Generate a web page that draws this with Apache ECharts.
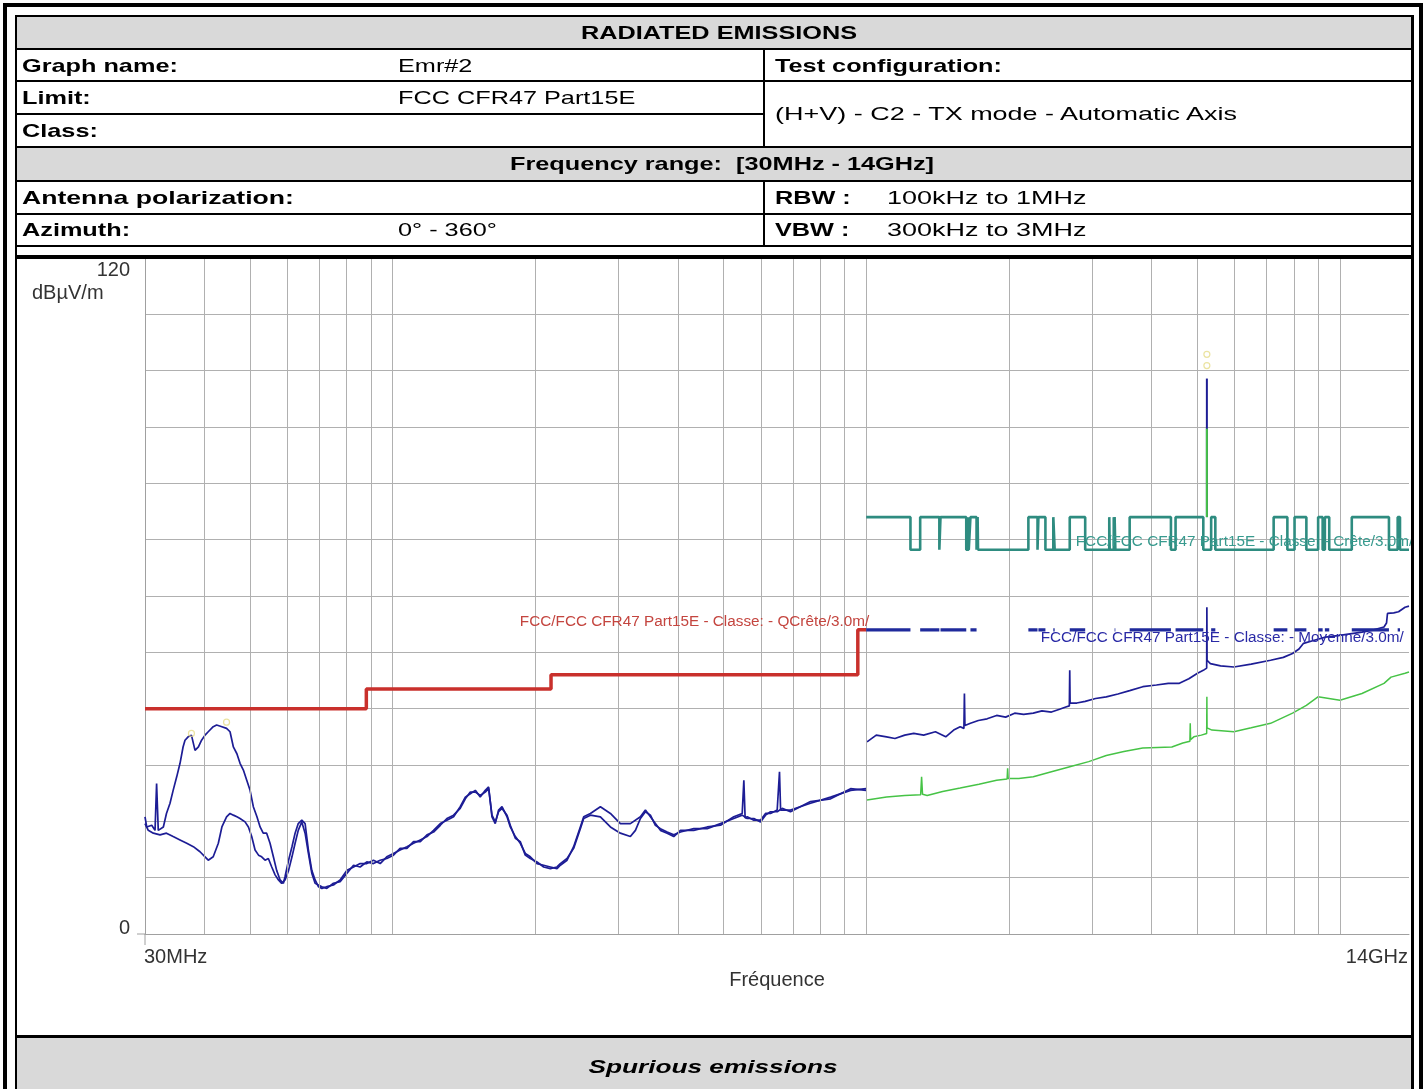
<!DOCTYPE html>
<html>
<head>
<meta charset="utf-8">
<title>Radiated emissions</title>
<script src="https://cdn.jsdelivr.net/npm/echarts@6/dist/echarts.min.js"></script>
<style>
html,body{margin:0;padding:0;background:#fff;}
body{width:1426px;height:1089px;position:relative;overflow:hidden;font-family:"Liberation Sans",Arial,sans-serif;}
#chart{position:absolute;left:0;top:0;width:1411px;height:1089px;z-index:1;}
.blk{position:absolute;background:#000;z-index:5;}
.gry{position:absolute;background:#d9d9d9;z-index:0;}
.t{position:absolute;white-space:nowrap;font-size:19px;line-height:19px;height:19px;color:#000;z-index:6;}
.t span{display:inline-block;transform-origin:0 50%;}
#frame{position:absolute;left:3px;top:3px;width:1420px;height:1110px;border:4px solid #000;box-sizing:border-box;z-index:5;}
</style>
</head>
<body>
<div id="frame"></div>
<div id="chart"></div>
<div id="deco"></div>
<script>
// ---------------- chart data ----------------
const xMinMHz = 30, xMaxMHz = 14000;
const yMinDb = 0, yMaxDb = 120, yStepDb = 10;
const yTickLabels = ['0', '120'];
const xTickLabels = ['30MHz', '14GHz'];
const gridFreqsMHz = [40, 50, 60, 70, 80, 90, 100, 200, 300, 400, 500, 600, 700, 800, 900,
  1000, 2000, 3000, 4000, 5000, 6000, 7000, 8000, 9000, 10000];

// FCC quasi-peak limit below 1 GHz (band edges / level)
const qpEdgesMHz = [30, 88, 216, 960, 1000];
const qpLevelsDb = [40, 43.5, 46, 54];

// restricted bands above 1 GHz (peak 74 / average 54 inside, 68.2 outside)
const restrictedBandsMHz = [[1000,1240],[1300,1427],[1435,1626.5],[1645.5,1646.5],[1660,1710],
  [1718.8,1722.2],[2200,2300],[2310,2390],[2483.5,2500],[2690,2900],[3260,3267],[3332,3339],
  [3345.8,3358],[3600,4400],[4500,5150],[5350,5460],[7250,7750],[8025,8500],[9000,9200],
  [9300,9500],[10600,12700],[13250,13400]];
const peakLimitInDb = 74, peakLimitOutDb = 68.2, avgLimitDb = 54;

const limitLabels = [
  'FCC/FCC CFR47 Part15E - Classe: - QCrête/3.0m/',
  'FCC/FCC CFR47 Part15E - Classe: - Crête/3.0m/',
  'FCC/FCC CFR47 Part15E - Classe: - Moyenne/3.0m/'
];
const limitLabelAnchorsMHz = [1000, 2770, 2336];

// measured traces 30 MHz - 1 GHz (two polarisations)
const traceLowA = [[30,20.8],[30.25,19.0],[31.0,19.3],[31.5,18.4],[31.74,26.7],[32.0,18.4],[32.27,18.1],[32.8,19.0],[33.3,21.4],[33.88,23.2],[34.4,25.5],[35.0,27.9],[35.57,30.3],[36.1,33.2],[36.44,34.4],[37.0,35.0],[37.6,35.3],[38.26,32.6],[38.9,33.2],[39.5,34.4],[40.17,35.3],[40.8,35.9],[41.8,36.8],[42.5,37.1],[43.6,36.8],[44.6,36.5],[45.36,35.9],[46.1,33.2],[46.9,32.0],[47.62,30.3],[48.4,29.1],[49.2,27.3],[50.0,25.5],[50.8,22.6],[51.7,20.8],[52.5,19.0],[53.3,17.9],[54.2,17.9],[55.1,16.1],[56.0,13.7],[56.9,11.3],[57.86,9.6],[58.8,9.0],[59.28,10.2],[60.3,13.1],[61.3,15.5],[62.24,17.9],[63.2,19.6],[64.3,20.2],[65.34,19.6],[66.4,14.9],[67.5,11.3],[68.6,9.6],[69.7,8.4],[70.9,8.1],[72.6,8.4],[75.0,8.7],[77.47,9.6],[80.1,11.3],[82.7,11.9],[85.39,12.5],[88.2,12.5],[91.1,13.1],[94.12,12.5],[97.2,13.7],[100.4,14.3],[103.7,14.9],[107.2,15.5],[110.7,16.1],[114.4,16.7],[118.2,17.3],[122.0,18.4],[126.1,19.6],[130.2,20.2],[134.5,20.8],[138.9,22.6],[142.4,24.3],[145.9,24.9],[149.5,25.5],[153.1,24.3],[156.9,25.5],[159.5,26.1],[162.1,20.8],[164.7,19.6],[167.4,22.0],[170.2,22.6],[174.4,20.8],[177.2,19.0],[181.6,17.3],[186.0,16.1],[190.6,14.3],[195.3,13.7],[201.8,12.5],[208.4,12.2],[215.3,11.9],[222.4,11.6],[226.0,12.2],[233.5,13.1],[241.1,15.5],[249.1,19.0],[253.2,20.8],[261.6,21.4],[274.6,22.6],[288.3,21.4],[302.6,19.6],[317.7,19.6],[333.6,20.8],[341.8,22.0],[350.2,20.8],[358.8,19.6],[367.7,18.4],[379.9,17.9],[392.3,17.3],[405.3,18.4],[432.4,18.4],[461.5,19.0],[492.4,19.3],[525.3,20.8],[547.2,21.4],[551.6,27.3],[555.0,20.6],[560.7,20.8],[579.0,20.2],[598.1,20.2],[612.9,21.4],[627.9,21.4],[648.7,22.0],[656.0,28.8],[659.5,22.0],[664.7,22.0],[692.1,22.0],[762.8,23.2],[841.0,24.3],[926.9,25.5],[1000,25.8]];
const traceLowB = [[30,19.6],[30.48,18.4],[31.24,17.9],[32.27,17.6],[33.3,17.9],[34.4,17.3],[35.57,16.7],[36.75,16.1],[37.95,15.5],[39.2,14.6],[40.17,13.7],[40.8,13.1],[41.8,13.7],[42.85,16.1],[43.6,19.0],[44.6,20.8],[45.36,21.4],[46.1,21.1],[46.9,20.8],[47.62,20.5],[48.8,19.9],[49.6,19.0],[50.4,17.3],[51.23,14.9],[52.1,14.0],[52.9,13.7],[53.78,13.1],[54.65,13.4],[55.56,11.9],[56.47,10.5],[57.4,9.6],[58.3,9.0],[59.28,9.6],[60.3,11.3],[61.3,13.7],[62.24,16.1],[63.2,18.4],[64.3,19.9],[65.34,17.9],[66.4,14.3],[67.5,10.8],[68.6,9.0],[69.7,8.7],[70.9,8.4],[72.6,8.1],[75.0,9.0],[77.47,9.3],[80.1,10.8],[82.7,12.2],[85.39,11.9],[88.2,12.8],[91.1,12.5],[94.12,13.1],[97.2,13.4],[100.4,14.0],[103.7,15.2],[107.2,15.2],[110.7,16.4],[114.4,16.4],[118.2,17.6],[122.0,18.1],[126.1,19.3],[130.2,20.5],[134.5,21.1],[138.9,22.3],[142.4,24.0],[145.9,25.2],[149.5,25.2],[153.1,24.6],[156.9,25.2],[159.5,25.8],[162.1,21.1],[164.7,19.9],[167.4,21.7],[170.2,22.3],[174.4,21.1],[177.2,19.3],[181.6,17.0],[186.0,16.4],[190.6,14.0],[195.3,13.4],[201.8,12.8],[208.4,11.9],[215.3,11.6],[222.4,11.9],[226.0,12.5],[233.5,13.4],[241.1,15.2],[249.1,18.7],[253.2,20.5],[261.6,21.1],[274.6,20.8],[288.3,19.0],[302.6,17.9],[317.7,17.3],[325.6,18.4],[333.6,20.5],[341.8,21.7],[350.2,21.1],[358.8,19.3],[367.7,18.7],[379.9,18.1],[392.3,17.6],[405.3,18.1],[432.4,18.7],[461.5,18.7],[492.4,19.6],[525.3,20.5],[547.2,21.1],[560.7,20.5],[579.0,20.5],[598.1,19.9],[612.9,21.1],[627.9,21.7],[648.7,21.7],[664.7,22.3],[692.1,21.7],[762.8,23.5],[841.0,24.0],[926.9,25.8],[1000,25.5]];

// measured traces 1 GHz - 14 GHz (peak / average)
const traceHighPeak = [[1004,34.1],[1050,35.3],[1104,35.0],[1150,34.7],[1206,35.3],[1260,35.6],[1322,35.3],[1400,35.9],[1472,35.0],[1530,36.2],[1579,36.8],[1608,36.5],[1612,42.7],[1616,37.0],[1660,37.4],[1725,37.9],[1800,38.2],[1885,38.8],[1970,38.5],[2058,39.2],[2150,39.0],[2253,39.2],[2350,39.6],[2461,39.4],[2560,39.9],[2639,40.3],[2685,40.5],[2690,46.8],[2695,41.0],[2784,41.0],[2900,41.3],[3050,41.8],[3213,42.1],[3400,42.6],[3600,43.2],[3837,43.9],[4100,44.2],[4344,44.5],[4584,44.5],[4800,45.3],[5007,46.3],[5150,46.8],[5235,47.2],[5240,58.0],[5245,48.6],[5330,48.0],[5600,47.6],[5975,47.4],[6500,47.9],[7143,48.6],[7600,49.1],[7947,49.8],[8200,50.6],[8384,51.6],[8800,52.1],[9327,52.7],[10000,53.0],[11139,53.6],[11800,54.0],[12397,54.5],[12550,55.2],[12609,56.9],[13000,57.0],[13306,57.2],[13733,58.0],[14000,58.2]];
const traceHighAvg = [[1004,23.8],[1104,24.3],[1206,24.6],[1303,24.7],[1309,27.9],[1315,24.8],[1345,24.6],[1450,25.3],[1579,25.9],[1730,26.6],[1885,27.3],[1984,27.5],[1989,29.4],[1994,27.6],[2100,27.6],[2253,27.9],[2461,28.8],[2691,29.7],[2950,30.6],[3213,31.7],[3500,32.4],[3837,33.0],[4419,33.2],[4662,33.9],[4825,34.2],[4833,37.4],[4841,34.5],[4918,35.0],[5100,35.3],[5235,35.6],[5240,42.1],[5245,36.6],[5370,36.2],[5975,35.9],[6500,36.6],[7143,37.4],[7947,39.2],[8500,40.6],[8993,42.1],[10008,41.5],[11139,42.7],[12397,44.5],[12828,45.6],[13733,46.3],[14000,46.5]];
// carrier (TX) line and marker points
const carrierPeak = [[5240,74],[5240,98.6]];
const carrierAvg = [[5240,74],[5240,89.7]];
const peakMarkers = [[37.6,35.6],[44.6,37.6],[5240,100.9],[5240,102.9]];

// ---------------- limit step lines built from the tables ----------------
const qpData = [];
qpLevelsDb.forEach((lv, i) => { qpData.push([qpEdgesMHz[i], lv], [qpEdgesMHz[i + 1], lv]); });
const pkData = [];
let cur = restrictedBandsMHz[0][0];
restrictedBandsMHz.forEach(([lo, hi]) => {
  if (lo > cur) pkData.push([cur, peakLimitOutDb], [lo, peakLimitOutDb]);
  pkData.push([lo, peakLimitInDb], [hi, peakLimitInDb]);
  cur = hi;
});
pkData.push([cur, peakLimitOutDb], [xMaxMHz, peakLimitOutDb]);
const avgData = [];
restrictedBandsMHz.forEach(([lo, hi]) => { avgData.push([lo, avgLimitDb], [hi, avgLimitDb], [hi, '-']); });

// ---------------- table / frame (HTML) ----------------
const deco = document.getElementById('deco');
function box(cls, x, y, w, h) {
  const d = document.createElement('div'); d.className = cls;
  d.style.left = x + 'px'; d.style.top = y + 'px'; d.style.width = w + 'px'; d.style.height = h + 'px';
  deco.appendChild(d);
}
function txt(s, x, cy, o) {
  o = o || {};
  const d = document.createElement('div'); d.className = 't';
  d.style.left = x + 'px'; d.style.top = (cy - 9.5) + 'px';
  const sp = document.createElement('span'); sp.textContent = s;
  if (o.b) sp.style.fontWeight = 'bold';
  if (o.i) sp.style.fontStyle = 'italic';
  const sx = o.sx || 1.33;
  sp.style.transform = (o.c ? 'scaleX(' + sx + ') translateX(-50%)' : 'scaleX(' + sx + ')');
  d.appendChild(sp); deco.appendChild(d);
}
// gray rows
box('gry', 17, 17, 1394, 31);
box('gry', 17, 148, 1394, 32);
box('gry', 17, 1038, 1394, 60);
// lines
box('blk', 15, 15, 1399, 2);
box('blk', 15, 15, 2, 1090);
box('blk', 1411, 15, 3, 1090);
box('blk', 15, 48, 1399, 2);
box('blk', 15, 80, 1399, 2);
box('blk', 15, 113, 749, 2);
box('blk', 15, 146, 1399, 2);
box('blk', 15, 180, 1399, 2);
box('blk', 15, 213, 1399, 2);
box('blk', 15, 245, 1399, 2);
box('blk', 763, 48, 2, 98);
box('blk', 763, 180, 2, 65);
box('blk', 15, 255, 1399, 4);
box('blk', 15, 1035, 1399, 3);
// texts
txt('RADIATED EMISSIONS', 719, 32, {b: 1, c: 1});
txt('Graph name:', 22, 65, {b: 1});
txt('Emr#2', 398, 65);
txt('Test configuration:', 775, 65, {b: 1});
txt('Limit:', 22, 97.5, {b: 1});
txt('FCC CFR47 Part15E', 398, 97.5);
txt('Class:', 22, 130, {b: 1});
txt('(H+V) - C2 - TX mode - Automatic Axis', 775, 113.5, {sx: 1.42});
txt('Frequency range:\u00a0 [30MHz - 14GHz]', 722, 163.5, {b: 1, c: 1});
txt('Antenna polarization:', 22, 197, {b: 1, sx: 1.4});
txt('RBW :', 775, 197, {b: 1});
txt('100kHz to 1MHz', 887, 197, {sx: 1.42});
txt('Azimuth:', 22, 229, {b: 1});
txt('0° - 360°', 398, 229);
txt('VBW :', 775, 229, {b: 1});
txt('300kHz to 3MHz', 887, 229, {sx: 1.42});
txt('Spurious emissions', 713, 1066, {b: 1, i: 1, c: 1, sx: 1.38});

// ---------------- chart ----------------
const chart = echarts.init(document.getElementById('chart'), null, {renderer: 'canvas'});
const NAVY = '#1d1d95', GREEN = '#46c346', TEAL = '#2e8c80', RED = '#c9302c', AVG = '#1f2a9c';
const lineBase = {type: 'line', showSymbol: false, symbol: 'none', silent: true, animation: false};
chart.setOption({
  animation: false,
  backgroundColor: 'transparent',
  grid: {left: 145, top: 258, width: 1264, height: 676, containLabel: false},
  xAxis: {type: 'log', logBase: 10, min: xMinMHz, max: xMaxMHz,
    axisLine: {show: true, onZero: false, lineStyle: {color: '#a0a0a0', width: 1}},
    axisTick: {show: false}, axisLabel: {show: false}, splitLine: {show: false}},
  yAxis: {type: 'value', min: yMinDb, max: yMaxDb, interval: yStepDb,
    axisLine: {show: true, lineStyle: {color: '#a0a0a0', width: 1}},
    axisTick: {show: false}, axisLabel: {show: false},
    splitLine: {show: true, lineStyle: {color: '#b0b0b0', width: 1}}},
  series: [
    Object.assign({}, lineBase, {name: 'grid', data: [[xMinMHz, '-']], z: 1,
      markLine: {silent: true, symbol: ['none', 'none'], animation: false, label: {show: false},
        lineStyle: {color: '#b0b0b0', width: 1, type: 'solid'},
        data: gridFreqsMHz.map(f => ({xAxis: f}))}}),
    Object.assign({}, lineBase, {name: 'Low A', data: traceLowA, z: 3, lineStyle: {color: NAVY, width: 1.7}}),
    Object.assign({}, lineBase, {name: 'Low B', data: traceLowB, z: 3, lineStyle: {color: NAVY, width: 1.7}}),
    Object.assign({}, lineBase, {name: 'High peak', data: traceHighPeak, z: 3, lineStyle: {color: NAVY, width: 1.7}}),
    Object.assign({}, lineBase, {name: 'High avg', data: traceHighAvg, z: 4, lineStyle: {color: GREEN, width: 1.5}}),
    Object.assign({}, lineBase, {name: 'Carrier peak', data: carrierPeak, z: 4, lineStyle: {color: NAVY, width: 2}}),
    Object.assign({}, lineBase, {name: 'Carrier avg', data: carrierAvg, z: 5, lineStyle: {color: GREEN, width: 2}}),
    Object.assign({}, lineBase, {name: 'QP limit', data: qpData, z: 6, lineStyle: {color: RED, width: 3.5}}),
    Object.assign({}, lineBase, {name: 'Peak limit', data: pkData, z: 6, lineStyle: {color: TEAL, width: 2.6}}),
    Object.assign({}, lineBase, {name: 'Avg limit', data: avgData, z: 6, connectNulls: false, lineStyle: {color: AVG, width: 3.2}}),
    {type: 'scatter', name: 'markers', data: peakMarkers, symbol: 'circle', symbolSize: 6, z: 7, silent: true,
      itemStyle: {color: 'rgba(255,255,255,0)', borderColor: '#e6dc8a', borderWidth: 1.2}}
  ]
});

// ---------------- texts & small ticks placed from axis coordinates ----------------
const P = (f, db) => chart.convertToPixel({gridIndex: 0}, [f, db]);
const o0 = P(xMinMHz, yMinDb), oTop = P(xMinMHz, yMaxDb), oEnd = P(xMaxMHz, yMinDb);
const FONT = '"Liberation Sans", Arial, sans-serif';
function gt(text, x, y, size, color, align) {
  return {type: 'text', x: x, y: y, z: 100, silent: true,
    style: {text: text, fill: color, font: size + 'px ' + FONT,
      align: align, verticalAlign: 'middle', textAlign: align, textVerticalAlign: 'middle'}};
}
const qpA = P(limitLabelAnchorsMHz[0], qpLevelsDb[qpLevelsDb.length - 1]);
const pkA = P(limitLabelAnchorsMHz[1], peakLimitOutDb);
const avA = P(limitLabelAnchorsMHz[2], avgLimitDb);
chart.setOption({graphic: [
  gt(yTickLabels[1], o0[0] - 15, oTop[1] + 12, 20, '#333', 'right'),
  gt(yTickLabels[0], o0[0] - 15, o0[1] - 6, 20, '#333', 'right'),
  gt('dBµV/m', 32, 293, 20, '#333', 'left'),
  gt(xTickLabels[0], o0[0] - 1, o0[1] + 23, 20, '#333', 'left'),
  gt(xTickLabels[1], oEnd[0] - 1, o0[1] + 23, 20, '#333', 'right'),
  gt('Fréquence', (o0[0] + oEnd[0]) / 2, o0[1] + 46, 20, '#333', 'center'),
  gt(limitLabels[0], qpA[0] + 3, qpA[1] - 8, 15.3, '#c4453f', 'right'),
  gt(limitLabels[1], pkA[0], pkA[1] - 8, 15.3, '#379a8e', 'left'),
  gt(limitLabels[2], avA[0], avA[1] + 8, 15.3, '#2a2aa6', 'left'),
  {type: 'line', z: 100, silent: true, shape: {x1: o0[0] - 8, y1: o0[1], x2: o0[0], y2: o0[1]}, style: {stroke: '#a0a0a0', lineWidth: 1}},
  {type: 'line', z: 100, silent: true, shape: {x1: o0[0], y1: o0[1], x2: o0[0], y2: o0[1] + 11}, style: {stroke: '#a0a0a0', lineWidth: 1}}
]});
</script>
</body>
</html>
